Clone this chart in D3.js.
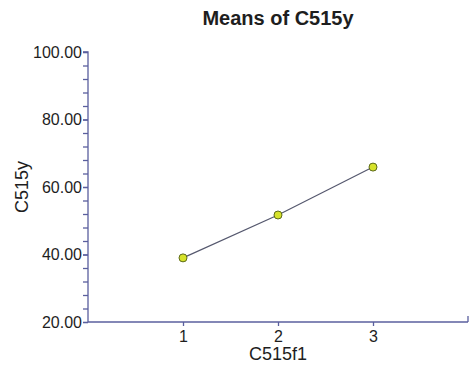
<!DOCTYPE html>
<html>
<head>
<meta charset="utf-8">
<script src="https://cdn.jsdelivr.net/npm/d3@7"></script>
<style>
  body { margin: 0; background: #fff; }
  text { font-family: "Liberation Sans", Arial, sans-serif; fill: #1e1e1e; }
</style>
</head>
<body>
<script>
// data
const levels = [1, 2, 3]
const means = [39.0, 51.7, 65.9]
const yTicks = [20, 40, 60, 80, 100]

const W = 473, H = 372
const M = { top: 52, right: 5, bottom: 50, left: 88 }
const AXIS = '#5a5f9e'

const svg = d3.select('body').append('svg')
  .attr('width', W)
  .attr('height', H)

const x = d3.scaleLinear()
  .domain([0, 4])
  .range([M.left, W - M.right])

const y = d3.scaleLinear()
  .domain([20, 100])
  .range([H - M.bottom, M.top])

// title
svg.append('text')
  .attr('x', (x.range()[0] + x.range()[1]) / 2)
  .attr('y', 25)
  .attr('text-anchor', 'middle')
  .style('font-size', '20px')
  .style('font-weight', 'bold')
  .text('Means of C515y')

// y axis: minor ticks every 4
const yAxisMinor = d3.axisLeft(y)
  .tickValues(d3.range(20, 101, 4))
  .tickSize(5)
  .tickFormat('')

const gyMinor = svg.append('g')
  .attr('transform', 'translate(' + M.left + ',0)')
  .call(yAxisMinor)

const yAxis = d3.axisLeft(y)
  .tickValues(yTicks)
  .tickSize(5)
  .tickPadding(1)
  .tickFormat(d3.format('.2f'))

const gy = svg.append('g')
  .attr('transform', 'translate(' + M.left + ',0)')
  .call(yAxis)

gy.selectAll('text').style('font-size', '16px')

// x axis
const xAxis = d3.axisBottom(x)
  .tickValues(levels)
  .tickSize(4)
  .tickPadding(5)
  .tickFormat(d3.format('d'))

const gx = svg.append('g')
  .attr('transform', 'translate(0,' + y(20) + ')')
  .call(xAxis)

gx.selectAll('text').style('font-size', '16px')

// end tick on x axis, going up
gx.append('line')
  .attr('x1', x(4)).attr('x2', x(4))
  .attr('y1', 0).attr('y2', -6)

svg.selectAll('.domain, .tick line, g line')
  .attr('stroke', AXIS)
  .attr('stroke-width', 1.3)

// keep domain without outer tick stubs
gx.select('.domain').attr('d', 'M' + x(0) + ',0H' + x(4))
gy.select('.domain').attr('d', 'M-5,' + y(100) + 'H0V' + y(20))
gyMinor.select('.domain').remove()

// axis titles
svg.append('text')
  .attr('transform', 'translate(' + 28 + ',' + ((y(20) + y(100)) / 2) + ') rotate(-90)')
  .attr('text-anchor', 'middle')
  .style('font-size', '18px')
  .text('C515y')

svg.append('text')
  .attr('x', (x(0) + x(4)) / 2)
  .attr('y', 360)
  .attr('text-anchor', 'middle')
  .style('font-size', '18px')
  .text('C515f1')

// means line + points
const pts = levels.map((l, i) => [l, means[i]])

svg.append('path')
  .datum(pts)
  .attr('fill', 'none')
  .attr('stroke', '#55586e')
  .attr('stroke-width', 1.2)
  .attr('d', d3.line().x(d => x(d[0])).y(d => y(d[1])))

svg.selectAll('circle.pt')
  .data(pts)
  .enter().append('circle')
  .attr('class', 'pt')
  .attr('cx', d => x(d[0]))
  .attr('cy', d => y(d[1]))
  .attr('r', 4)
  .attr('fill', '#d6e22a')
  .attr('stroke', '#5c6a1a')
  .attr('stroke-width', 1)
</script>
</body>
</html>
